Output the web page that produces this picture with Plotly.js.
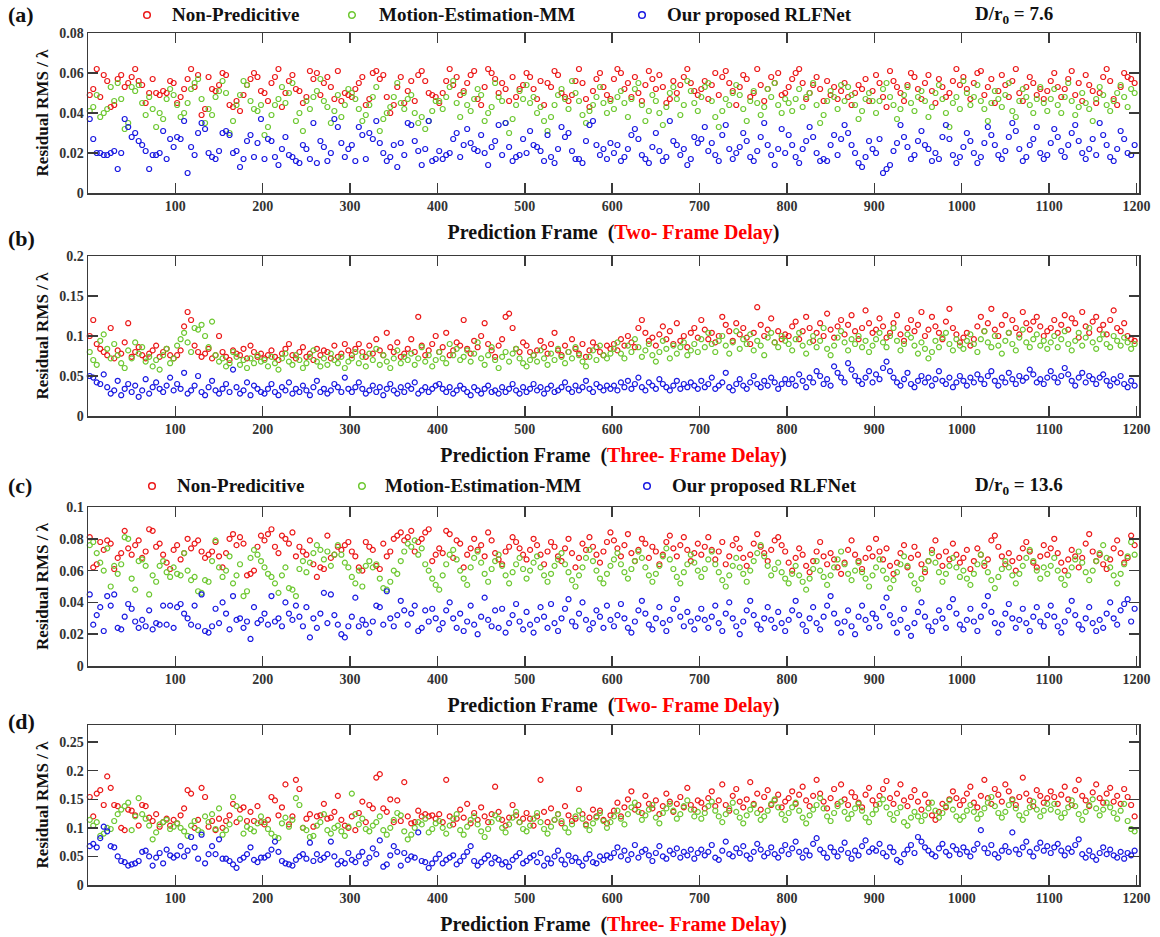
<!DOCTYPE html>
<html>
<head>
<meta charset="utf-8">
<script src="https://cdn.plot.ly/plotly-3.0.1.min.js"></script>
<style>html,body{margin:0;padding:0;background:#fff;}#chart{width:1160px;height:937px;}</style>
</head>
<body>
<div id="chart"></div>
<script>
// ---------- DATA ----------
// Frames: every 4th prediction frame, 300 samples per series
const nSamples = 300;
const frameStart = 2, frameStep = 4;

// Series labels
const seriesNames = ["Non-Predicitive", "Motion-Estimation-MM", "Our proposed RLFNet"];

// Panel (a): D/r0 = 7.6, two-frame delay  (values in units of 0.001)
const unitA = 0.001;
const nonPredA = [49,52,62,48,59,56,43,44,57,59,53,55,58,62,56,54,45,50,57,50,49,51,50,56,55,
45,48,52,57,62,53,59,39,42,58,52,51,54,60,59,44,43,46,41,49,54,57,60,58,51,
50,46,55,58,62,43,50,56,59,52,51,45,48,61,57,60,49,55,58,53,47,61,46,50,49,
48,52,55,58,44,47,60,61,57,59,48,40,44,53,58,45,51,56,46,59,61,56,50,49,48,
45,50,56,62,54,58,49,51,55,59,61,47,44,53,62,60,57,50,55,52,46,58,48,52,54,
60,58,52,47,56,44,55,53,61,59,50,48,46,49,56,62,55,47,43,51,57,60,53,49,47,
57,62,60,52,55,48,58,50,46,54,61,57,52,59,53,45,47,56,50,54,58,62,55,51,49,
52,56,47,54,60,49,58,61,55,51,44,53,59,57,48,50,62,54,46,52,58,55,60,49,50,
53,57,60,62,55,47,50,54,58,52,46,56,49,53,47,51,55,48,44,50,54,52,57,46,51,
59,55,48,43,61,56,53,50,46,54,60,58,52,47,55,59,51,45,57,53,48,50,56,62,54,
58,52,47,55,60,61,49,53,57,45,51,59,54,48,56,62,50,46,53,58,55,49,52,47,51,
56,60,53,48,52,57,61,49,55,46,59,54,51,45,50,58,62,56,47,44,53,60,58,57,55];
const motionA = [41,43,49,38,40,42,53,46,55,47,32,35,53,51,54,45,39,48,42,33,40,37,47,52,49,
44,38,40,45,52,55,57,47,35,42,39,48,51,56,50,30,36,44,49,56,54,46,42,41,44,
29,33,39,44,47,53,45,50,55,36,40,31,46,42,48,51,57,46,43,35,41,49,38,44,52,
50,47,42,36,39,44,48,53,31,37,40,43,48,55,45,42,47,49,40,35,38,32,36,41,46,
46,42,48,53,56,45,38,50,44,41,47,52,49,36,40,43,55,48,46,35,30,37,44,51,47,
54,45,48,40,43,36,31,38,44,49,52,47,42,56,50,46,39,35,41,44,48,53,45,40,46,
42,48,51,45,38,47,52,55,44,36,41,49,46,40,34,43,50,53,47,39,44,56,51,45,41,
48,53,55,46,38,33,41,47,44,50,54,49,42,36,46,51,45,39,43,52,48,55,44,40,47,
45,41,47,52,43,48,50,55,44,35,39,46,51,48,42,54,46,53,49,44,37,41,47,50,46,
40,46,52,55,48,44,37,42,49,53,45,41,48,51,46,38,43,50,54,47,40,33,45,48,42,
56,50,44,48,54,46,42,36,45,51,47,43,49,55,41,38,46,52,48,44,40,47,53,45,41,
47,52,44,40,48,55,46,39,43,50,45,42,36,47,53,49,44,41,46,50,54,48,43,52,50];
const rlfA = [37,27,20,20,19,19,20,21,12,20,37,33,28,30,26,24,21,12,19,19,20,31,17,27,23,
28,27,36,10,23,19,30,35,32,20,18,17,21,30,31,29,20,21,13,17,26,29,18,25,37,
17,27,26,18,14,22,28,19,18,16,15,24,22,17,35,15,26,23,16,20,37,33,25,18,22,
24,16,33,29,17,30,27,36,25,20,16,18,24,13,25,19,35,34,26,21,14,22,36,16,17,
21,17,19,20,27,30,18,24,32,25,22,21,29,20,14,23,26,34,19,35,23,16,18,19,27,
20,31,24,23,21,16,29,18,15,22,33,28,30,21,17,17,15,26,34,36,24,19,22,17,25,
20,24,16,18,22,29,32,27,19,17,15,23,30,21,16,18,36,26,24,19,22,14,17,28,25,
27,33,21,25,19,16,29,34,22,17,20,23,30,26,18,16,21,28,35,24,19,14,22,32,20,
29,24,18,15,22,26,33,28,20,16,17,16,24,29,19,27,34,30,24,20,15,13,18,26,22,
20,27,10,12,14,21,25,34,28,23,17,19,26,31,24,22,16,20,17,28,34,27,19,15,18,
23,30,26,20,15,18,25,33,29,24,19,17,21,28,35,31,22,16,18,24,27,33,20,17,19,
25,32,28,21,18,24,30,34,26,20,17,22,27,19,35,29,24,18,16,22,31,27,20,19,24];

// Panel (b): D/r0 = 7.6, three-frame delay  (values in units of 0.002)
const unitB = 0.002;
const nonPredB = [50,60,45,42,40,38,55,36,41,39,46,58,37,40,43,38,36,39,41,44,37,40,42,38,36,
38,41,56,65,60,44,40,37,39,42,36,38,50,40,37,35,41,39,38,42,36,44,40,37,39,
36,38,41,37,35,39,42,45,38,36,40,43,37,39,35,42,38,41,40,36,44,37,39,45,41,
38,42,45,40,37,44,39,48,41,38,52,43,40,46,37,39,42,48,40,62,44,38,41,45,50,
40,43,52,38,41,46,44,60,42,39,47,43,50,58,45,41,37,44,48,62,64,55,42,40,46,
44,40,38,41,47,43,39,45,52,41,38,44,40,48,42,39,45,37,41,46,43,40,38,44,42,
45,41,48,44,50,46,43,55,60,52,47,49,44,51,56,48,53,45,58,47,50,43,52,55,49,
60,54,48,52,46,50,62,57,53,47,58,51,55,49,45,52,68,57,50,54,61,46,53,48,51,
50,56,59,48,53,62,55,47,52,58,50,64,54,49,56,60,51,57,63,53,48,55,66,58,52,
54,61,56,49,52,58,63,51,47,55,60,53,57,65,50,54,62,56,52,48,59,67,55,51,46,
49,52,44,48,56,62,53,58,67,54,50,57,63,52,60,55,51,65,58,54,59,62,56,50,53,
55,60,52,57,63,54,61,58,49,65,56,52,59,62,54,57,51,60,66,55,53,58,50,48,47];
const motionB = [40,35,32,47,51,42,36,45,38,33,30,41,36,46,39,43,34,37,31,35,29,38,42,33,36,
44,48,52,46,40,55,54,57,50,43,59,38,34,36,31,33,40,37,32,35,30,36,33,38,34,
35,31,37,33,29,36,39,34,32,38,35,30,33,37,41,34,31,36,32,39,35,33,37,30,34,
36,40,33,37,31,39,35,42,32,38,34,30,36,41,33,37,35,39,32,36,43,34,38,31,35,
40,36,33,45,38,42,35,37,41,34,39,46,36,32,38,43,35,30,37,40,34,39,42,36,33,
31,35,38,34,41,36,32,39,35,42,37,33,40,36,43,38,34,31,37,41,35,44,38,36,39,
42,46,39,36,44,40,48,43,37,41,45,38,34,40,47,42,36,44,39,43,46,38,41,45,40,
48,43,52,45,40,47,50,44,39,46,53,42,48,45,51,41,47,44,38,49,52,46,43,50,47,
45,41,48,52,44,39,46,50,43,47,55,42,38,44,49,53,46,41,48,45,50,43,47,40,44,
48,52,46,43,50,55,47,41,45,51,49,44,39,46,42,36,40,47,43,49,52,45,41,48,44,
42,47,51,45,40,48,53,46,43,50,44,39,47,52,45,41,49,54,46,43,48,51,44,47,42,
46,50,43,48,53,45,41,47,52,44,49,55,46,42,48,51,45,43,50,47,44,49,46,42,45];
const rlfB = [25,24,21,20,26,18,14,16,22,13,17,20,15,19,12,16,23,14,18,21,17,15,19,24,16,
20,17,27,14,16,19,25,15,13,18,22,16,14,17,20,15,29,18,14,16,21,13,19,17,15,
14,17,20,15,13,18,16,21,14,17,15,19,16,13,18,22,15,17,14,16,20,18,15,24,17,
15,18,21,17,14,16,19,15,18,13,17,20,16,14,18,15,19,17,21,14,16,18,15,17,19,
20,17,15,18,14,16,19,17,15,13,18,16,14,17,19,15,16,14,18,15,17,20,16,14,18,
15,17,20,16,18,14,17,19,15,16,18,21,17,15,19,16,18,22,17,15,20,18,16,19,17,
19,16,21,18,22,17,20,24,18,16,21,19,17,23,20,18,16,19,22,17,20,18,21,19,17,
22,18,20,24,17,19,21,27,18,16,20,23,19,17,21,25,20,18,22,19,24,21,17,20,23,
20,23,19,26,22,18,24,21,28,25,20,23,19,31,27,24,21,33,29,25,22,20,24,28,21,
26,23,30,34,28,24,21,19,23,27,20,18,22,25,21,24,19,23,28,22,20,24,18,21,25,
22,19,24,21,26,23,20,25,28,22,19,24,21,27,23,20,25,22,24,29,26,21,23,20,24,
28,24,21,25,30,26,22,19,24,27,21,25,23,20,24,26,22,19,23,21,25,20,18,22,19];

// Panel (c): D/r0 = 13.6, two-frame delay  (values in units of 0.001)
const unitC = 0.001;
const nonPredC = [81,62,64,78,73,79,77,61,68,71,85,74,70,76,79,68,72,86,85,75,77,70,65,61,73,
76,67,71,80,74,77,79,72,68,70,72,78,69,62,71,80,83,76,81,77,57,58,60,75,82,
79,83,86,75,71,82,80,77,84,69,75,72,70,79,64,56,62,61,82,68,70,75,73,76,78,
72,69,62,60,78,75,73,63,61,77,69,72,80,82,84,79,81,85,72,78,80,84,86,66,70,
74,71,85,83,68,79,77,62,70,74,80,73,76,69,84,79,71,67,64,72,75,81,78,74,70,
67,73,80,76,70,64,72,78,75,69,66,74,80,71,62,68,77,73,81,75,70,65,72,78,84,
79,74,69,76,83,71,66,73,80,77,68,75,72,64,70,78,82,74,69,76,81,73,66,71,77,
70,75,81,73,67,72,78,64,69,76,80,74,68,63,70,77,83,75,71,66,73,79,81,76,72,
65,60,68,74,70,63,59,66,72,78,69,64,71,67,62,58,65,73,79,70,66,61,68,74,69,
80,72,67,74,63,58,65,71,76,62,68,75,70,64,59,66,73,79,69,63,72,67,77,70,65,
68,73,61,66,74,70,63,67,79,82,75,69,64,71,66,60,68,74,78,72,65,62,69,76,70,
74,80,71,65,60,67,73,69,62,68,77,83,72,66,70,64,61,67,74,79,71,65,68,82,76];
const motionC = [76,78,71,65,60,74,50,63,58,64,81,80,55,48,66,67,63,45,57,53,63,66,59,56,62,
58,57,71,60,54,56,47,46,54,53,66,79,62,56,60,69,52,57,64,44,47,68,73,70,66,
62,58,56,52,46,57,62,49,48,44,61,66,59,65,71,76,73,67,72,63,70,76,70,65,62,
56,52,60,50,63,66,62,64,55,49,48,53,60,58,66,72,77,75,79,70,74,64,60,55,51,
48,57,64,70,73,67,60,55,51,62,68,72,65,58,53,61,66,70,63,57,52,59,64,68,61,
55,60,65,69,62,57,53,58,63,67,71,64,59,54,50,57,62,68,73,66,60,55,52,58,63,
67,71,64,59,55,61,66,72,68,62,57,53,58,63,69,74,67,61,56,52,59,64,70,65,60,
56,61,67,72,64,59,54,50,57,63,68,62,58,53,60,66,71,76,69,63,57,61,65,59,55,
52,58,63,57,53,48,55,61,66,60,56,51,57,62,67,72,64,58,54,60,65,59,55,50,57,
62,67,60,55,49,54,59,64,69,63,57,52,48,55,61,66,71,65,59,53,58,63,68,62,56,
60,55,51,58,64,70,65,59,54,49,56,61,66,62,57,52,58,63,68,73,66,60,55,62,58,
63,68,60,55,51,57,62,67,72,65,59,54,60,66,71,76,68,62,57,52,58,64,69,78,70];
const rlfC = [45,26,32,37,22,44,38,45,24,23,31,39,36,28,24,29,25,35,23,27,26,38,26,38,24,
37,39,33,30,26,38,25,45,22,21,25,36,27,40,33,23,44,29,30,24,28,17,37,27,29,
33,26,44,28,30,25,40,33,29,38,31,25,37,18,30,24,33,46,27,45,32,26,20,18,25,
31,43,25,29,26,21,28,38,37,26,47,30,25,32,41,35,26,33,38,22,24,35,28,36,30,
23,27,35,40,30,24,33,22,28,38,26,20,31,43,29,25,35,24,36,21,27,32,39,28,23,
34,26,21,29,37,31,24,39,27,22,30,36,42,28,25,33,40,29,23,27,35,31,24,38,29,
25,32,39,30,24,21,28,35,41,33,26,23,30,37,27,22,29,36,42,31,25,34,28,23,30,
36,29,24,31,38,27,22,33,40,30,25,20,28,35,41,32,26,23,30,37,29,24,34,27,22,
29,35,41,32,26,22,30,37,27,23,31,38,44,33,27,21,28,35,25,20,31,38,29,24,33,
30,25,37,43,32,27,21,29,36,24,19,27,34,40,31,25,22,28,35,30,24,37,42,33,26,
23,29,36,28,22,31,38,44,34,27,21,26,33,39,30,24,29,36,27,22,31,37,28,25,32,
38,31,25,21,28,35,41,32,26,23,30,37,27,22,29,24,33,40,30,26,35,39,42,28,36];

// Panel (d): D/r0 = 13.6, three-frame delay  (values in units of 0.002)
const unitD = 0.002;
const nonPredD = [77,60,80,83,70,95,85,70,69,50,48,66,65,61,52,70,69,59,56,62,51,55,58,52,57,
54,61,67,83,80,50,57,85,77,51,56,48,58,50,56,61,71,55,66,68,56,64,56,69,55,
53,57,77,74,61,68,88,53,60,92,84,50,58,62,51,60,61,71,58,59,64,78,57,52,50,
60,48,63,73,55,70,67,94,97,67,64,75,55,74,56,90,60,54,55,65,60,62,60,61,58,
62,55,92,60,53,58,66,59,71,54,63,57,68,60,55,62,86,64,57,52,59,70,61,55,58,
63,58,52,60,92,64,55,67,57,62,54,69,61,56,58,84,62,53,59,66,60,65,57,54,61,
65,72,60,68,75,82,66,70,63,78,71,67,74,62,69,80,73,64,71,77,68,85,70,66,74,
72,67,76,82,69,74,88,70,65,78,84,73,68,75,90,71,80,66,77,83,70,74,79,68,73,
76,82,71,79,86,74,69,78,92,80,73,67,76,84,71,88,75,70,81,77,72,68,79,85,74,
70,78,84,91,76,71,80,88,74,69,77,83,73,66,79,72,61,57,64,71,68,75,82,76,70,
74,80,86,72,68,78,92,76,71,84,79,73,88,82,75,70,77,94,80,74,69,83,78,72,76,
82,77,71,79,86,75,70,83,92,78,74,69,81,88,76,72,80,85,73,78,71,84,77,70,60];
const motionD = [57,52,55,43,45,50,49,56,62,66,69,72,48,60,76,62,58,52,40,46,53,55,57,49,51,
54,50,47,43,52,56,48,46,60,55,62,49,67,44,48,53,77,69,58,45,51,49,47,54,60,
55,49,45,42,41,54,59,51,57,76,70,50,48,42,43,52,55,62,48,45,50,52,47,43,51,
80,62,53,58,49,47,52,55,60,48,44,50,57,63,61,47,40,44,50,55,53,58,46,49,54,
56,50,45,52,58,62,48,44,51,57,60,53,47,42,49,55,61,58,50,46,53,59,64,55,49,
47,52,58,63,55,49,45,51,57,62,56,50,46,53,60,65,58,52,48,54,59,63,56,50,55,
60,65,58,53,62,68,72,64,57,61,66,70,59,54,63,67,71,65,58,62,69,74,66,60,64,
58,63,69,73,65,60,55,62,67,72,64,59,54,61,66,70,63,57,60,65,71,75,68,62,57,
63,68,72,65,59,54,61,66,70,76,67,60,56,63,69,73,64,58,62,67,71,65,59,55,62,
66,71,75,68,62,57,63,68,55,52,59,64,60,56,61,67,72,65,59,63,69,74,66,60,57,
60,65,70,64,58,62,67,72,77,69,63,59,64,70,74,67,61,57,63,68,73,66,60,65,71,
66,71,64,59,63,68,74,69,62,57,64,70,75,67,61,66,72,68,63,58,65,71,56,49,47];
const rlfD = [34,36,33,41,51,47,34,33,25,21,20,17,18,19,21,29,30,25,17,24,28,19,31,26,24,
26,34,25,30,42,33,23,44,19,27,34,27,40,23,23,21,18,15,22,24,27,33,22,20,24,
24,26,31,38,29,21,19,18,17,22,25,27,23,37,21,27,22,24,27,38,25,18,21,19,28,
22,20,25,29,19,24,32,27,39,16,18,26,34,29,17,28,22,25,24,46,21,20,15,19,23,
27,19,22,24,26,18,21,25,29,34,21,17,20,23,26,19,24,22,18,20,16,22,25,28,19,
21,24,26,20,28,17,23,19,25,30,22,18,26,21,24,20,17,23,27,20,19,25,22,26,24,
28,33,25,30,22,27,35,24,29,31,26,21,28,34,25,23,30,27,32,24,29,26,31,23,28,
31,26,29,35,24,22,30,38,27,25,32,28,34,26,23,29,36,31,25,28,33,27,24,30,35,
27,32,38,29,24,30,26,36,41,31,28,24,33,29,25,31,37,28,23,30,26,34,39,29,32,
30,36,28,25,33,29,22,20,27,31,35,28,42,38,33,30,27,25,32,36,29,26,34,31,27,
33,29,25,31,36,48,32,28,35,27,24,30,34,29,46,31,27,33,38,29,25,32,37,30,34,
28,33,36,30,26,32,29,35,40,27,24,30,25,22,28,33,27,31,26,24,29,23,28,26,30];

// Axis tick definitions
const xTickVals = [100,200,300,400,500,600,700,800,900,1000,1100,1200];
const yTicksA = [0,0.02,0.04,0.06,0.08];
const yTicksB = [0,0.05,0.1,0.15,0.2];
const yTicksC = [0,0.02,0.04,0.06,0.08,0.1];
const yTicksD = [0,0.05,0.1,0.15,0.2,0.25];

// ---------- BUILD ----------
const W = 1160, H = 937;
const frames = Array.from({length: nSamples}, (_, i) => frameStart + frameStep * i);
const colors = ['rgb(235,25,25)', 'rgb(110,200,50)', 'rgb(25,25,225)'];
const fontFam = 'Liberation Serif, Times New Roman, serif';
const px = v => v / W, py = v => 1 - v / H;

const panels = [
  {series: [nonPredA, motionA, rlfA], unit: unitA, yr: [0, 0.08], yt: yTicksA, top: 33, bot: 193, delay: 'Two- Frame Delay'},
  {series: [nonPredB, motionB, rlfB], unit: unitB, yr: [0, 0.2], yt: yTicksB, top: 256, bot: 416, delay: 'Three- Frame Delay'},
  {series: [nonPredC, motionC, rlfC], unit: unitC, yr: [0, 0.1], yt: yTicksC, top: 507, bot: 666, delay: 'Two- Frame Delay'},
  {series: [nonPredD, motionD, rlfD], unit: unitD, yr: [0, 0.28], yt: yTicksD, top: 725, bot: 885, delay: 'Three- Frame Delay'}
];

const data = [];
const layout = {
  width: W, height: H,
  margin: {l: 0, r: 0, t: 0, b: 0},
  paper_bgcolor: '#fff', plot_bgcolor: '#fff',
  showlegend: false,
  font: {family: fontFam, color: '#222'},
  annotations: [], shapes: []
};

const axisCommon = {
  showline: true, linecolor: '#3a3a3a', linewidth: 1.5, mirror: 'ticks',
  ticks: 'inside', ticklen: 10, tickwidth: 1.5, tickcolor: '#3a3a3a',
  showgrid: false, zeroline: false,
  tickfont: {family: fontFam, size: 14, color: '#333', weight: 'bold'}
};

panels.forEach((p, k) => {
  const n = k + 1;
  const xa = 'x' + (n === 1 ? '' : n), ya = 'y' + (n === 1 ? '' : n);
  p.series.forEach((vals, s) => {
    data.push({
      type: 'scatter', mode: 'markers', name: seriesNames[s],
      x: frames, y: vals.map(v => v * p.unit),
      xaxis: xa, yaxis: ya,
      marker: {symbol: 'circle-open', size: 5, color: colors[s], line: {width: 1.2, color: colors[s]}},
      cliponaxis: false
    });
  });
  layout['xaxis' + (n === 1 ? '' : n)] = Object.assign({}, axisCommon, {
    domain: [px(88), px(1139)], range: [0, 1203], anchor: ya,
    tickvals: xTickVals,
    title: {text: 'Prediction Frame  (<span style="color:#ff0000">' + p.delay + '</span>)',
            font: {family: fontFam, size: 20, color: '#111', weight: 'bold'}, standoff: 11}
  });
  layout['yaxis' + (n === 1 ? '' : n)] = Object.assign({}, axisCommon, {
    domain: [py(p.bot), py(p.top)], range: p.yr, anchor: xa,
    tickvals: p.yt,
    title: {text: 'Residual RMS / λ', font: {family: fontFam, size: 17, color: '#111', weight: 'bold'}, standoff: 6}
  });
});

// Panel letters
const letters = [['(a)', 15], ['(b)', 238], ['(c)', 486], ['(d)', 721]];
letters.forEach(([t, y]) => layout.annotations.push({
  xref: 'paper', yref: 'paper', x: px(6), y: py(y), xanchor: 'left', yanchor: 'middle',
  text: t, showarrow: false, font: {family: fontFam, size: 22, color: '#111', weight: 'bold'}
}));

// Legend rows (above panels a and c)
const legendRows = [
  {y: 15, marks: [147, 352, 642], texts: [170, 377, 665], dx: 973, dr: 'D/r<sub>0</sub> = 7.6'},
  {y: 486, marks: [152, 362, 647], texts: [175, 383, 670], dx: 973, dr: 'D/r<sub>0</sub> = 13.6'}
];
legendRows.forEach(row => {
  seriesNames.forEach((name, s) => {
    const cx = row.marks[s], r = 3.3;
    layout.shapes.push({type: 'circle', xref: 'paper', yref: 'paper',
      x0: px(cx - r), x1: px(cx + r), y0: py(row.y + r), y1: py(row.y - r),
      line: {color: colors[s], width: 1.5}, fillcolor: 'rgba(0,0,0,0)'});
    layout.annotations.push({xref: 'paper', yref: 'paper', x: px(row.texts[s]), y: py(row.y),
      xanchor: 'left', yanchor: 'middle', text: name, showarrow: false,
      font: {family: fontFam, size: 19, color: '#111', weight: 'bold'}});
  });
  layout.annotations.push({xref: 'paper', yref: 'paper', x: px(row.dx), y: py(row.y),
    xanchor: 'left', yanchor: 'middle', text: row.dr, showarrow: false,
    font: {family: fontFam, size: 19, color: '#111', weight: 'bold'}});
});

Plotly.newPlot('chart', data, layout, {displayModeBar: false, staticPlot: true});
</script>
</body>
</html>
